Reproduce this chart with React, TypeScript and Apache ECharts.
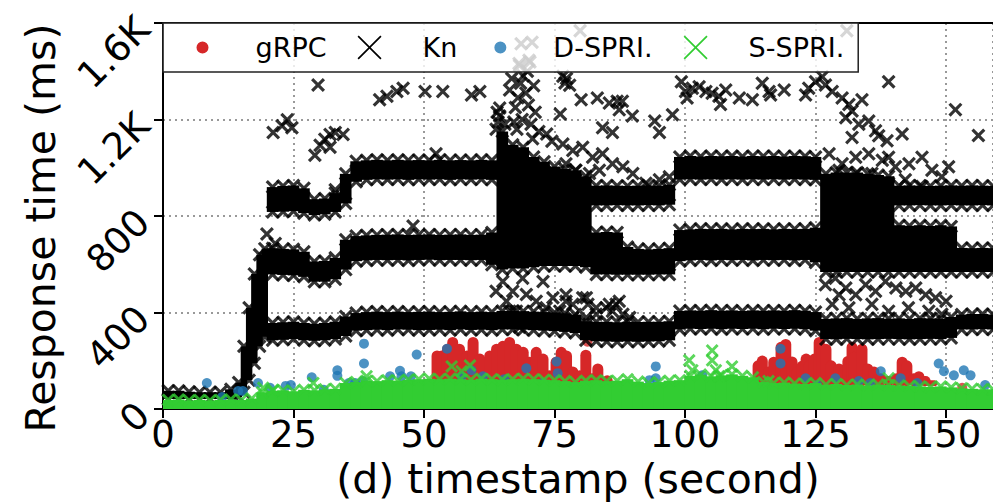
import React, { useEffect, useRef } from "react";
import * as echarts from "echarts";

const FONT = "DejaVu Sans";
const xTickValues = [0, 25, 50, 75, 100, 125, 150];
const xTickLabels = ["0", "25", "50", "75", "100", "125", "150"];
const yTickValues = [0, 400, 800, 1200, 1600];
const yTickLabels = ["0", "400", "800", "1.2K", "1.6K"];
const seriesNames = ["gRPC", "Kn", "D-SPRI.", "S-SPRI."];
const colors = ["#d62728", "#000000", "#1f77b4", "#32cd32"];

// Kn dense strips: [second, low ms, high ms]
const knBase = [[1, 42, 76], [3, 42, 76], [5, 42, 72], [7, 42, 70], [9, 42, 70], [11, 42, 70], [13, 42, 82]];
const knRamp = [[14.5, 50, 110], [15.5, 70, 260], [16.5, 120, 420], [17.5, 190, 560], [18.5, 260, 640], [19.5, 300, 665]];
const knBand1 = [
  [21, 285, 357], [23, 287, 360], [25, 290, 362], [27, 285, 357], [29, 283, 354], [31, 285, 357], [33, 290, 362], [35, 303, 384],
  [37, 325, 398], [39, 327, 402], [41, 329, 404], [43, 327, 402], [45, 330, 404], [47, 329, 402], [49, 327, 403], [51, 328, 404],
  [53, 329, 402], [55, 327, 403], [57, 330, 405], [59, 328, 402], [61, 329, 404], [63, 327, 402],
  [65, 330, 407], [67, 330, 407], [69, 329, 406], [71, 327, 404], [73, 325, 402], [75, 323, 400], [77, 320, 397], [79, 315, 392],
  [81, 285, 364], [83, 281, 362], [85, 280, 362], [87, 279, 360], [89, 280, 362], [91, 279, 361], [93, 280, 362], [95, 281, 362], [97, 285, 364],
  [99, 330, 407], [101, 333, 409], [103, 332, 408], [105, 333, 410], [107, 331, 408], [109, 333, 409], [111, 332, 407], [113, 333, 409],
  [115, 331, 408], [117, 333, 409], [119, 332, 408], [121, 333, 410], [123, 331, 408], [125, 325, 402],
  [127, 290, 374], [129, 289, 376], [131, 291, 377], [133, 290, 374], [135, 289, 376], [137, 290, 377], [139, 291, 375], [141, 290, 376],
  [143, 289, 374], [145, 290, 377], [147, 291, 376], [149, 290, 374], [151, 295, 382],
  [153, 330, 392], [155, 330, 394], [157, 331, 394], [159, 330, 392],
];
const knBand2 = [
  [21, 558, 667], [23, 556, 664], [25, 554, 662], [27, 548, 652], [29, 528, 612], [31, 528, 614], [33, 538, 627], [35, 578, 702],
  [37, 613, 717], [39, 616, 720], [41, 618, 722], [43, 617, 723], [45, 618, 724], [47, 616, 722], [49, 618, 723], [51, 619, 724],
  [53, 617, 722], [55, 618, 723], [57, 618, 724], [59, 617, 722], [61, 618, 723], [63, 598, 732],
  [65, 578, 1150], [67, 583, 1095], [69, 583, 1085], [71, 588, 1045], [73, 593, 1025], [75, 593, 1005], [77, 593, 995], [79, 593, 990], [81, 588, 965],
  [83, 558, 732], [85, 558, 734], [87, 557, 732], [89, 557, 672], [91, 557, 664], [93, 557, 662], [95, 558, 664], [97, 558, 667],
  [99, 613, 742], [101, 616, 745], [103, 618, 747], [105, 616, 746], [107, 618, 747], [109, 617, 745], [111, 618, 747], [113, 616, 746],
  [115, 618, 747], [117, 617, 745], [119, 618, 747], [121, 616, 746], [123, 618, 747], [125, 608, 752],
  [127, 568, 975], [129, 568, 980], [131, 568, 980], [133, 568, 980], [135, 568, 975], [137, 568, 970], [139, 568, 965],
  [141, 568, 762], [143, 568, 760], [145, 568, 762], [147, 568, 759], [149, 568, 762], [151, 568, 757],
  [153, 568, 668], [155, 568, 667], [157, 568, 668], [159, 568, 667],
];
const knBand3 = [
  [21, 817, 920], [23, 818, 925], [25, 820, 927], [27, 812, 915], [29, 804, 870], [31, 807, 873], [33, 817, 895], [35, 852, 975],
  [37, 942, 1027], [39, 950, 1031], [41, 952, 1033], [43, 951, 1031], [45, 952, 1033], [47, 950, 1031], [49, 952, 1032], [51, 951, 1031],
  [53, 952, 1033], [55, 950, 1031], [57, 952, 1032], [59, 951, 1031], [61, 952, 1033], [63, 950, 1031],
  [83, 844, 926], [85, 844, 927], [87, 845, 926], [89, 844, 925], [91, 844, 926], [93, 845, 927], [95, 844, 926], [97, 847, 930],
  [99, 951, 1045], [101, 952, 1049], [103, 951, 1047], [105, 952, 1049], [107, 951, 1048], [109, 952, 1049], [111, 951, 1047], [113, 952, 1049],
  [115, 951, 1048], [117, 952, 1049], [119, 951, 1047], [121, 952, 1049], [123, 951, 1048], [125, 950, 1045],
  [141, 844, 926], [143, 844, 927], [145, 845, 926], [147, 844, 925], [149, 844, 926], [151, 845, 927], [153, 844, 926], [155, 844, 927],
  [157, 845, 926], [159, 844, 925],
];
// Kn isolated markers: [second, ms]
const knOutliers = [
  [19.9, 726], [21.5, 686], [21.1, 1146], [22.8, 1174], [23.8, 1199], [24.7, 1166],
  [29.1, 1052], [30.1, 1093], [31.0, 1118], [32.0, 1138], [33.0, 1146], [34.5, 1138], [32.0, 1085], [29.7, 1343],
  [41.5, 1282], [42.9, 1296], [44.8, 1316], [46.0, 1330], [50.2, 1316], [53.6, 1316], [59.1, 1302], [60.7, 1316],
  [47.9, 759], [52.3, 1058], [33.0, 909],
  [63.8, 1160], [64.0, 1230], [64.2, 1190], [64.5, 1215], [64.5, 1248], [65.5, 1180], [66.4, 1322], [66.8, 1370], [67.2, 1190],
  [67.5, 1250], [67.8, 1160], [68.0, 1290], [68.5, 1350], [69.0, 1380], [69.5, 1310], [69.8, 1400], [70.0, 1260], [68.8, 1200],
  [70.5, 1180], [70.8, 1120], [71.0, 1340], [71.3, 1230], [72.0, 1150], [73.5, 1140], [74.5, 1110],
  [68.3, 1424], [70.3, 1438], [68.6, 1514], [70.7, 1520], [68.2, 1432], [70.1, 1446], [79.9, 1568], [131.0, 1568],
  [76.1, 1223], [76.6, 1379], [77.0, 1351], [77.3, 1370], [77.9, 1342], [80.1, 1282], [83.2, 1289], [85.5, 1268], [87.0, 1276],
  [88.0, 1276], [87.4, 1240], [89.9, 1215], [84.2, 1166], [86.1, 1146], [94.2, 1194], [95.1, 1146], [97.6, 1220], [99.3, 1357],
  [100.1, 1316], [100.4, 1289], [101.4, 1330], [102.7, 1336], [104.0, 1316], [105.2, 1309], [106.5, 1296], [106.8, 1262],
  [107.8, 1322], [110.4, 1289], [112.9, 1282], [114.8, 1350], [116.1, 1316], [116.4, 1302], [119.0, 1322], [123.1, 1302],
  [123.7, 1330], [125.0, 1357], [126.3, 1377],
  [126.9, 1343], [128.2, 1316], [130.1, 1289], [131.4, 1262], [132.0, 1235], [133.9, 1282], [130.8, 1207], [133.3, 1180],
  [135.2, 1194], [136.5, 1153], [137.1, 1133], [138.7, 1112], [141.6, 1140], [139.0, 1357], [132.0, 1126],
  [151.8, 1241], [156.2, 1134],
  // between band 1 and band 2
  [63.8, 488], [65.1, 529], [65.8, 447], [67.0, 488], [67.7, 406], [68.9, 542], [69.6, 475], [70.2, 380], [71.5, 447],
  [72.8, 529], [73.4, 420], [74.7, 461], [76.0, 406], [77.2, 447], [78.5, 380], [65.1, 366], [68.3, 339], [66.4, 406],
  [80.4, 461], [81.4, 434], [83.0, 393], [84.9, 420], [86.8, 434], [88.1, 393], [89.4, 380], [81.1, 380],
  [77.2, 474], [78.5, 434], [81.1, 461], [83.0, 420], [85.5, 434], [87.4, 447], [86.1, 406],
  [126.9, 515], [128.8, 542], [130.8, 502], [132.7, 474], [134.6, 515], [136.5, 488], [138.4, 529], [140.4, 502], [142.3, 488],
  [144.2, 502], [146.1, 474], [148.0, 461], [150.0, 447], [128.2, 434], [131.4, 420], [135.8, 434], [139.0, 406], [142.8, 420],
  [146.7, 406], [149.2, 393], [129.5, 474],
  // above band 3
  [76.6, 1099], [78.5, 1072], [80.4, 1085], [82.3, 1044], [84.2, 1058], [86.1, 1017], [88.1, 1004], [90.0, 976], [92.5, 936],
  [95.1, 950], [97.0, 963], [77.2, 1017], [79.1, 990], [81.7, 976], [79.8, 909], [83.6, 990],
  [127.6, 1058], [130.1, 1017], [132.7, 1044], [135.2, 1058], [137.8, 1031], [139.0, 1044], [140.3, 1004], [142.9, 1017],
  [145.4, 1044], [147.3, 990], [149.2, 963], [150.5, 1004], [142.2, 950], [145.4, 922], [139.0, 936], [135.8, 976], [132.7, 976], [129.5, 990],
];

// gRPC stacked dot columns: [second, low ms, high ms]
const grpcColumns = [
  [52.5, 95, 243], [53.4, 95, 243], [54.5, 95, 271], [55.5, 95, 299], [56.8, 95, 271], [58.2, 95, 243], [59.4, 95, 299], [60.7, 95, 230],
  [61.6, 95, 149], [62.6, 95, 243], [63.9, 95, 271], [65.1, 95, 283], [66.4, 95, 299], [67.7, 95, 271], [69.0, 95, 258], [70.2, 95, 217],
  [71.5, 95, 258], [72.8, 95, 230], [74.0, 95, 161], [75.3, 95, 217], [76.3, 95, 258], [77.3, 95, 243], [78.5, 95, 177], [79.8, 95, 161],
  [81.0, 95, 246], [82.2, 95, 149], [83.3, 95, 189], [85.1, 95, 140],
  [114.0, 95, 202], [114.8, 95, 222], [116.0, 95, 177], [117.0, 95, 217], [118.4, 95, 279], [119.3, 95, 291], [120.5, 95, 218],
  [121.5, 95, 177], [122.4, 95, 200], [123.2, 95, 230], [123.8, 95, 202], [124.8, 95, 230], [125.7, 95, 299], [126.3, 95, 271],
  [127.0, 95, 271], [128.0, 95, 202], [129.5, 95, 189], [130.5, 95, 177], [131.2, 95, 220], [132.0, 95, 279], [132.4, 95, 238],
  [133.9, 95, 271], [135.0, 95, 189], [136.2, 95, 177], [137.5, 95, 149], [139.0, 95, 137], [140.5, 95, 149], [141.6, 95, 217],
  [142.5, 95, 202], [143.8, 95, 149], [144.8, 95, 157], [146.0, 95, 137], [147.3, 95, 120],
];
const grpcPoints = [[81.3, 279], [153.1, 88]];

// D-SPRI. dots: [second, ms]
const dspriPoints = [
  [8.4, 108], [11.3, 50], [14.4, 75], [15.3, 75], [18.2, 108], [20.5, 88], [23.5, 96], [24.5, 100], [28.5, 132], [30.8, 80],
  [33.4, 161], [33.4, 138], [35.6, 108], [36.8, 108], [38.5, 271], [38.5, 189], [38.3, 116], [43.5, 136], [45.4, 159], [45.7, 136],
  [47.5, 136], [48.6, 226], [54.4, 250], [57.2, 136], [59.1, 161], [61.3, 136], [65.4, 124], [69.6, 169], [72.7, 108], [75.4, 197],
  [75.6, 149], [94.4, 177], [94.4, 128], [93.2, 120], [103.3, 140], [111.3, 116], [118.3, 250], [118.3, 189], [123.1, 128], [125.3, 100],
  [128.8, 128], [133.3, 116], [135.5, 108], [137.5, 157], [141.3, 128], [144.5, 108], [148.6, 189], [149.6, 157], [151.5, 140],
  [153.4, 161], [154.7, 140], [157.5, 100],
];

// S-SPRI. dense floor: [second, high ms]
const sspriFloor = [
  [1, 38], [3, 40], [5, 36], [7, 38], [9, 36], [11, 38], [13, 40], [15, 38], [17, 44],
  [19, 70], [21, 76], [23, 78], [25, 74], [27, 80], [29, 78], [31, 82], [33, 84],
  [35, 108], [37, 112], [39, 118], [41, 116], [43, 120], [45, 118], [47, 122], [49, 124], [51, 126],
  [53, 124], [55, 126], [57, 124], [59, 122], [61, 126], [63, 124], [65, 122], [67, 124], [69, 126], [71, 124], [73, 122], [75, 120],
  [77, 116], [79, 112], [81, 118], [83, 120], [85, 116], [87, 118], [89, 124], [91, 114], [93, 108], [95, 112], [97, 118], [99, 120],
  [101, 138], [103, 143], [105, 136], [107, 140], [109, 144], [111, 138], [113, 132],
  [115, 112], [117, 108], [119, 110], [121, 106], [123, 104], [125, 108], [127, 102], [129, 104], [131, 100], [133, 102], [135, 98],
  [137, 102], [139, 100], [141, 98], [143, 96], [145, 94], [147, 92], [149, 94], [151, 90],
  [153, 86], [155, 84], [157, 82], [159, 82],
];
const sspriPoints = [
  [19.2, 88], [21.1, 80], [28.8, 108], [39.0, 136], [55.3, 177], [57.2, 157], [58.8, 181], [100.8, 202], [101.4, 161],
  [105.2, 243], [105.2, 202], [105.9, 161], [106.5, 136], [109.0, 177], [116.0, 116], [139.0, 128],
];

const X_MARK = "path://M1.6,0L5,3.4L8.4,0L10,1.6L6.6,5L10,8.4L8.4,10L5,6.6L1.6,10L0,8.4L3.4,5L0,1.6Z";
const LEG_X = "path://M0,0Z M60,24Z M1.2,0L12,10.8L22.8,0L24,1.2L13.2,12L24,22.8L22.8,24L12,13.2L1.2,24L0,22.8L10.8,12L0,1.2Z";
const LEG_DOT = "path://M0,0Z M60,24Z M6,12A6,6 0 1 1 18,12A6,6 0 1 1 6,12Z";

const stripItem = (halfW: number, color: string) => (_p: any, api: any) => {
  const x = api.value(0);
  const lo = api.value(1);
  const hi = api.value(2);
  const a = api.coord([x - halfW, hi]);
  const b = api.coord([x + halfW, lo]);
  return {
    type: "rect",
    shape: { x: a[0] - 0.6, y: a[1], width: b[0] - a[0] + 1.2, height: b[1] - a[1] },
    style: { fill: color },
  };
};

const columnItem = (color: string) => (_p: any, api: any) => {
  const x = api.value(0);
  const a = api.coord([x, api.value(2)]);
  const b = api.coord([x, api.value(1)]);
  return {
    type: "rect",
    shape: { x: a[0] - 5.5, y: a[1], width: 11, height: b[1] - a[1], r: 5.5 },
    style: { fill: color },
  };
};

export default function App() {
  const ref = useRef<HTMLDivElement>(null);
  useEffect(() => {
    const chart = echarts.init(ref.current!, null, { renderer: "svg" });
    const knEdges = [...knBase, ...knRamp, ...knBand1, ...knBand2, ...knBand3].flatMap((d) => [[d[0], d[1]], [d[0], d[2]]]);
    const floorStrips = sspriFloor.map((d) => [d[0], 0, d[1]]);
    const knStrip = (data: number[][], halfW: number) => ({
      type: "custom",
      name: seriesNames[1],
      renderItem: stripItem(halfW, colors[1]),
      data,
      clip: true,
      itemStyle: { color: colors[1] },
      z: 3,
    });
    const axisLineStyle = { color: "#000", width: 2 };
    const option: any = {
      animation: false,
      backgroundColor: "#ffffff",
      textStyle: { fontFamily: FONT },
      grid: { left: 163, top: 23, right: -2, bottom: 87.5, show: false },
      legend: {
        left: 163,
        top: 23,
        orient: "horizontal",
        itemWidth: 60,
        itemHeight: 24,
        itemGap: 31,
        padding: [11, 14, 11, 27.5],
        backgroundColor: "rgba(255,255,255,0.8)",
        borderColor: "#222",
        borderWidth: 1.5,
        selectedMode: false,
        textStyle: { fontSize: 27, fontFamily: FONT, color: "#000" },
        data: [
          { name: seriesNames[0], icon: LEG_DOT, itemStyle: { color: colors[0], borderWidth: 0 } },
          { name: seriesNames[1], icon: LEG_X, itemStyle: { color: colors[1], borderWidth: 0 } },
          { name: seriesNames[2], icon: LEG_DOT, itemStyle: { color: colors[2], borderWidth: 0 } },
          { name: seriesNames[3], icon: LEG_X, itemStyle: { color: colors[3], borderWidth: 0 } },
        ],
      },
      xAxis: [
        {
          type: "value",
          min: 0,
          max: 159,
          interval: 25,
          name: "(d) timestamp (second)",
          nameLocation: "middle",
          nameGap: 48,
          nameTextStyle: { fontSize: 41, fontFamily: FONT, color: "#000" },
          axisLine: { show: true, onZero: false, lineStyle: axisLineStyle },
          axisTick: { show: true, length: 9, lineStyle: axisLineStyle },
          axisLabel: {
            fontSize: 37,
            fontFamily: FONT,
            color: "#000",
            margin: 7,
            showMaxLabel: false,
            formatter: (v: number) => {
              const i = xTickValues.indexOf(v);
              return i >= 0 ? xTickLabels[i] : "";
            },
          },
          splitLine: { show: true, lineStyle: { color: "#999", width: 2, type: [2, 4] } },
        },
        {
          type: "value",
          position: "top",
          min: 0,
          max: 159,
          interval: 25,
          axisLine: { show: true, onZero: false, lineStyle: axisLineStyle },
          axisTick: { show: false },
          axisLabel: { show: false },
          splitLine: { show: false },
        },
      ],
      yAxis: {
        type: "value",
        min: 0,
        max: 1600,
        interval: 400,
        name: "Response time (ms)",
        nameLocation: "middle",
        nameGap: 88,
        nameTextStyle: { fontSize: 41, fontFamily: FONT, color: "#000", padding: [0, 24, 0, 0] },
        axisLine: { show: true, lineStyle: axisLineStyle },
        axisTick: { show: true, length: 9, lineStyle: axisLineStyle },
        axisLabel: {
          fontSize: 37,
          fontFamily: FONT,
          color: "#000",
          rotate: 45,
          margin: 20,
          formatter: (v: number) => {
            const i = yTickValues.indexOf(v);
            return i >= 0 ? yTickLabels[i] : "";
          },
        },
        splitLine: { show: true, lineStyle: { color: "#999", width: 2, type: [2, 4] } },
      },
      series: [
        { type: "custom", name: seriesNames[0], renderItem: columnItem(colors[0]), data: grpcColumns, clip: true, itemStyle: { color: colors[0] }, z: 2 },
        { type: "scatter", name: seriesNames[0], data: grpcPoints, symbol: "circle", symbolSize: 10, itemStyle: { color: colors[0] }, z: 2 },
        knStrip(knBase, 1),
        knStrip(knRamp, 0.5),
        knStrip(knBand1, 1),
        knStrip(knBand2, 1),
        knStrip(knBand3, 1),
        { type: "scatter", name: seriesNames[1], data: knEdges, symbol: X_MARK, symbolSize: 14, itemStyle: { color: colors[1] }, z: 3 },
        { type: "scatter", name: seriesNames[1], data: knOutliers, symbol: X_MARK, symbolSize: 14, itemStyle: { color: colors[1] }, z: 3 },
        { type: "scatter", name: seriesNames[2], data: dspriPoints, symbol: "circle", symbolSize: 10, itemStyle: { color: colors[2] }, z: 3.5 },
        { type: "custom", name: seriesNames[3], renderItem: stripItem(1, colors[3]), data: floorStrips, clip: true, itemStyle: { color: colors[3] }, z: 3.8 },
        { type: "scatter", name: seriesNames[3], data: sspriFloor, symbol: X_MARK, symbolSize: 13, itemStyle: { color: colors[3] }, z: 3.8 },
        { type: "scatter", name: seriesNames[3], data: sspriPoints, symbol: X_MARK, symbolSize: 13, itemStyle: { color: colors[3] }, z: 3.8 },
      ],
    };
    chart.setOption(option);
    return () => chart.dispose();
  }, []);
  return <div ref={ref} style={{ position: "fixed", left: 0, top: 0, width: 993, height: 504, background: "#fff" }} />;
}
